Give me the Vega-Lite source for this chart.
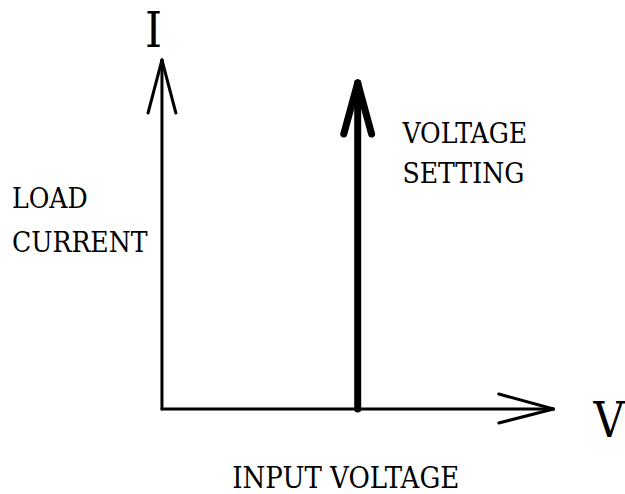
{
  "$schema": "https://vega.github.io/schema/vega-lite/v6.json",
  "width": 625,
  "height": 494,
  "autosize": {"type": "fit", "contains": "padding"},
  "padding": 0,
  "background": "white",
  "config": {"view": {"stroke": null}},
  "datasets": {
    "segments": [
      {"part": "axis", "x": 0, "y": 0, "x2": 0, "y2": 349},
      {"part": "axis", "x": -14, "y": 296, "x2": 0, "y2": 349},
      {"part": "axis", "x": 14, "y": 296, "x2": 0, "y2": 349},
      {"part": "axis", "x": 0, "y": 0, "x2": 394, "y2": 0},
      {"part": "axis", "x": 339, "y": 15, "x2": 394, "y2": 0},
      {"part": "axis", "x": 339, "y": -14, "x2": 394, "y2": 0},
      {"part": "setting", "x": 197, "y": 0, "x2": 197, "y2": 326},
      {"part": "setting", "x": 183, "y": 275, "x2": 197, "y2": 326},
      {"part": "setting", "x": 211, "y": 275, "x2": 197, "y2": 326}
    ],
    "labels": [
      {"role": "symbol", "text": "I", "x": -8.5, "y": 362, "align": "center"},
      {"role": "symbol", "text": "V", "x": 450, "y": -28, "align": "center"},
      {"role": "label", "text": "VOLTAGE", "x": 242, "y": 266, "align": "left"},
      {"role": "label", "text": "SETTING", "x": 242, "y": 226, "align": "left"},
      {"role": "label", "text": "LOAD", "x": -151, "y": 201, "align": "left"},
      {"role": "label", "text": "CURRENT", "x": -151, "y": 157, "align": "left"},
      {"role": "label", "text": "INPUT VOLTAGE", "x": 185, "y": -79, "align": "center"}
    ]
  },
  "encoding": {
    "x": {"field": "x", "type": "quantitative", "scale": {"domain": [-163, 462], "nice": false, "zero": false}, "axis": null},
    "y": {"field": "y", "type": "quantitative", "scale": {"domain": [-85, 409], "nice": false, "zero": false}, "axis": null}
  },
  "layer": [
    {
      "data": {"name": "segments"},
      "transform": [{"filter": "datum.part === 'axis'"}],
      "mark": {"type": "rule", "color": "black", "strokeWidth": 3, "strokeCap": "round"},
      "encoding": {"x2": {"field": "x2"}, "y2": {"field": "y2"}}
    },
    {
      "data": {"name": "segments"},
      "transform": [{"filter": "datum.part === 'setting'"}],
      "mark": {"type": "rule", "color": "black", "strokeWidth": 7, "strokeCap": "round"},
      "encoding": {"x2": {"field": "x2"}, "y2": {"field": "y2"}}
    },
    {
      "data": {"name": "labels"},
      "transform": [{"filter": "datum.role === 'label' && datum.align === 'left'"}],
      "mark": {"type": "text", "align": "left", "baseline": "alphabetic", "font": "DejaVu Serif Condensed, Liberation Serif", "fontSize": 28, "color": "black"},
      "encoding": {"text": {"field": "text"}}
    },
    {
      "data": {"name": "labels"},
      "transform": [{"filter": "datum.role === 'label' && datum.align === 'center'"}],
      "mark": {"type": "text", "align": "center", "baseline": "alphabetic", "font": "DejaVu Serif Condensed, Liberation Serif", "fontSize": 29, "color": "black"},
      "encoding": {"text": {"field": "text"}}
    },
    {
      "data": {"name": "labels"},
      "transform": [{"filter": "datum.role === 'symbol'"}],
      "mark": {"type": "text", "align": "center", "baseline": "alphabetic", "font": "DejaVu Serif Condensed, Liberation Serif", "fontSize": 48, "color": "black"},
      "encoding": {"text": {"field": "text"}}
    }
  ]
}
